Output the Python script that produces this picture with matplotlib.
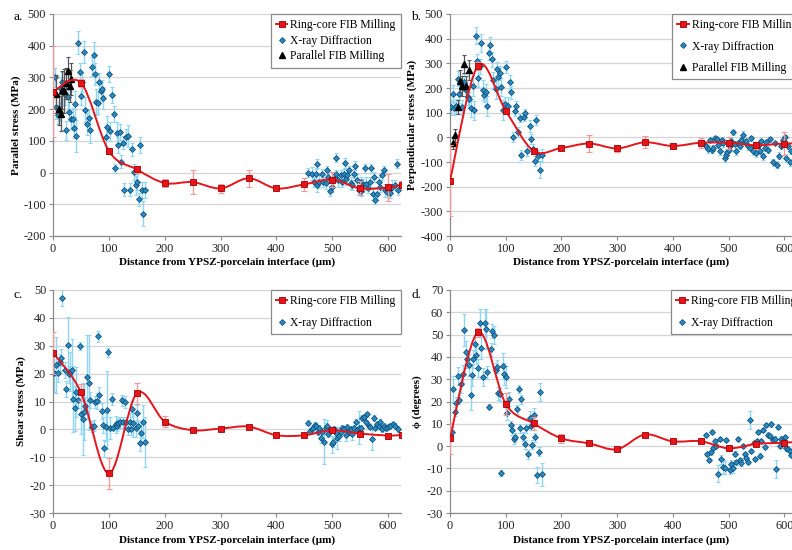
import numpy as np
import matplotlib
matplotlib.use("Agg")
import matplotlib.pyplot as plt
from matplotlib.path import Path
from matplotlib.patches import PathPatch
from matplotlib.lines import Line2D

plt.rcParams['font.family'] = ['Liberation Serif', 'DejaVu Serif']
plt.rcParams['axes.unicode_minus'] = False

# ---------------- data ----------------
ring_x = [0, 50, 100, 150, 200, 250, 300, 350, 400, 450, 500, 550, 600, 625]

# Panel a: parallel stress
ring_a = [255, 283, 68, 10, -33, -30, -50, -18, -50, -37, -22, -50, -47, -38]
ring_a_err = [143, 12, 8, 10, 12, 37, 15, 27, 6, 20, 25, 22, 42, 10]
xrd_a_x = [3, 6, 9, 12, 15, 17, 21, 23, 27, 29, 32, 35, 37, 39, 42, 45, 48, 50, 52, 56,
           58, 61, 64, 67, 70, 73, 76, 77, 80, 83, 86, 88, 90, 94, 96, 100, 102, 106, 109, 111,
           114, 117, 120, 122, 125, 127, 131, 134, 138, 142, 145, 149, 151, 154, 156, 160, 162, 165,
           457, 464, 467, 470, 473, 473, 477, 481, 484, 488, 491, 493, 496, 499, 501, 504, 506, 507,
           511, 515, 517, 521, 522, 525, 527, 530, 533, 536, 539, 540, 545, 548, 551, 552, 555, 558,
           561, 564, 567, 570, 573, 574, 577, 580, 583, 586, 589, 592, 595, 598, 601, 604, 607, 612,
           616, 617]
xrd_a_y = [300, 208, 182, 192, 265, 286, 249, 134, 239, 192, 168, 168, 139, 216, 115, 410, 316, 243, 285, 379,
           198, 153, 171, 134, 334, 371, 310, 223, 220, 285, 257, 262, 235, 113, 144, 310, 131, 244, 184, 13,
           125, 86, 128, 34, 94, -54, 113, 115, -54, 73, 2, -40, -29, -84, 86, -54, -130, -54,
           0, -3, -29, -5, -40, 28, -29, -3, -29, -33, 7, -14, -58, -47, -24, -16, -6, 47,
           -24, -8, -29, -3, 30, -19, -8, 7, -33, -40, -3, 22, -24, -54, -59, -29, -40, 13,
           -35, -50, -29, 13, -66, -14, -85, -66, -29, -45, -8, 7, -56, -61, -56, -64, -45, -40,
           28, -56]
xrd_a_e = [30, 40, 30, 30, 35, 30, 35, 30, 40, 30, 30, 35, 30, 40, 50, 35, 30, 30, 30, 35,
           40, 35, 30, 40, 30, 40, 35, 40, 35, 30, 30, 30, 35, 30, 35, 25, 30, 25, 25, 15,
           35, 25, 25, 20, 20, 20, 25, 35, 20, 20, 25, 30, 25, 20, 25, 25, 40, 25,
           15, 20, 15, 15, 20, 15, 20, 15, 15, 20, 15, 20, 15, 15, 20, 15, 15, 15,
           20, 15, 15, 15, 15, 20, 15, 15, 20, 15, 15, 15, 20, 15, 15, 15, 20, 15,
           20, 15, 15, 15, 20, 15, 15, 20, 15, 15, 15, 15, 20, 15, 15, 15, 20, 15,
           15, 15]
par_a_x = [6, 10, 14, 17, 20, 23, 26, 30, 33]
par_a_y = [247, 199, 186, 260, 258, 281, 320, 273, 294]
par_a_e = [60, 50, 55, 60, 70, 50, 45, 50, 50]

# Panel b: perpendicular stress
ring_b = [-175, 290, 108, -55, -43, -25, -45, -20, -35, -22, -22, -32, -25, -25]
ring_b_err = [143, 15, 10, 12, 10, 36, 15, 25, 5, 20, 25, 15, 45, 10]
xrd_b_x = [2, 5, 8, 11, 14, 17, 22, 26, 29, 32, 34, 37, 41, 43, 46, 48, 50, 53, 56, 59,
           61, 64, 67, 70, 72, 76, 78, 82, 84, 86, 89, 92, 95, 98, 101, 104, 107, 110, 113, 116,
           119, 122, 125, 128, 132, 135, 139, 143, 146, 149, 152, 155, 158, 162, 166,
           454, 460, 464, 467, 470, 473, 476, 479, 482, 485, 488, 491, 494, 495, 498, 500, 502, 505,
           508, 511, 514, 517, 520, 523, 526, 529, 532, 535, 538, 541, 544, 547, 550, 553, 556, 559,
           562, 565, 568, 571, 574, 579, 583, 587, 591, 595, 598, 601, 604, 607, 610, 613]
xrd_b_y = [122, 176, 119, 126, 238, 176, 122, 223, 191, 163, 155, 119, 209, 109, 412, 308, 241, 288, 382, 193,
           172, 182, 126, 343, 373, 317, 231, 196, 277, 245, 261, 204, 112, 135, 284, 128, 223, 182, 0, 108,
           126, 20, 78, -72, 82, 99, -54, 45, -7, -46, -97, 69, -77, -131, -73,
           -23, -36, -47, -9, -50, -43, -3, -7, -30, -57, -9, -23, -84, -70, -61, -50, -36, -16,
           20, -26, -57, -23, -36, -9, 11, -20, -16, -36, -43, -3, -57, -36, -64, -34, -57, -16,
           -77, -43, -20, -50, -7, -101, -23, -111, -74, -36, -9, 1, -84, -36, -101, -57]
xrd_b_e = [30, 35, 30, 30, 30, 35, 30, 35, 30, 30, 30, 35, 40, 40, 35, 30, 35, 30, 35, 40,
           30, 35, 40, 30, 35, 30, 35, 40, 30, 35, 30, 35, 40, 30, 25, 35, 30, 25, 20, 20,
           20, 20, 15, 20, 15, 15, 20, 25, 20, 20, 20, 20, 25, 35, 25,
           10, 10, 15, 10, 15, 10, 10, 10, 15, 15, 10, 15, 15, 15, 15, 10, 15, 15,
           10, 10, 15, 10, 10, 10, 15, 10, 10, 15, 10, 10, 15, 10, 15, 10, 10, 10,
           15, 10, 10, 15, 10, 15, 10, 15, 15, 10, 10, 10, 15, 10, 15, 10]
par_b_x = [5, 9, 14, 18, 22, 26, 29, 34]
par_b_y = [-23, 8, 123, 227, 209, 297, 209, 274]
par_b_e = [25, 25, 30, 45, 40, 35, 40, 40]

# Panel c: shear stress
ring_c = [27.5, 13.3, -15.8, 12.9, 2.8, -0.3, 0.3, 1.0, -2.1, -2.1, -0.3, -1.5, -2.2, -2.0]
ring_c_err = [7.5, 3, 5.5, 3.7, 2, 0.5, 0.5, 0.5, 0.5, 0.5, 0.5, 0.5, 0.5, 0.5]
xrd_c_x = [2, 6, 9, 12, 15, 17, 21, 23, 26, 28, 31, 34, 36, 39, 42, 45, 48, 50, 54, 56,
           58, 61, 64, 67, 70, 73, 76, 79, 81, 83, 87, 89, 92, 94, 97, 99, 102, 106, 108, 112,
           114, 117, 120, 123, 126, 129, 131, 134, 137, 139, 142, 144, 148, 150, 152, 155, 158, 161, 164,
           457, 460, 463, 466, 469, 471, 474, 477, 480, 482, 485, 488, 491, 493, 496, 499, 501, 503,
           506, 509, 512, 515, 518, 521, 524, 527, 530, 533, 536, 539, 542, 545, 548, 551, 554, 557,
           560, 563, 565, 568, 571, 574, 577, 580, 583, 586, 589, 592, 596, 600, 604, 608, 613, 617]
xrd_c_y = [20.4, 23.1, 20.1, 24.0, 25.7, 47.2, 21.3, 14.5, 30.3, 19.8, 20.7, 21.3, 10.9, 7.5, 13.3,
           10.5, 29.9, 5.4, 3.7, 6.3, 8.5, 18.9, 16.8, 10.5, 1.0, 1.3, 9.8, 10.2, 33.4, 12.3,
           6.6, 1.6, -6.8, 1.0, 7.0, 27.6, 0.6, 10.9, 0.6, 1.8, 1.3, 2.2, 2.5, 10.4, 2.5,
           9.8, 2.5, 0.1, 2.8, 0.1, 7.3, 2.2, 0.4, 5.8, 1.3, -4.8, -1.4, 2.8, -4.4,
           2.4, -0.6, 0.1, 0.6, 1.6, 1.3, -1.1, 0.4, -3.0, -0.8, -4.4, 0.4, 1.3, -1.8, -0.2, -5.4, -4.4, 0.1,
           -1.4, -3.2, -2.3, -0.8, 0.4, 0.1, -2.0, 1.0, -1.1, 0.1, -1.8, 0.4, 2.8, -0.2, 0.6, 0.6, 4.0, 4.6,
           2.5, 5.4, 1.3, 1.0, -3.5, 4.0, 0.6, 1.8, 1.3, 2.8, 0.1, 1.3, 0.4, 1.0, 1.3, 1.8, 1.3, 0.1]
xrd_c_e = [7, 10, 3, 3, 3, 3, 3, 3, 10, 3, 7, 11, 12, 8, 9, 3, 1.5, 7, 13, 10,
           3, 15, 17, 3, 2, 2, 2, 3, 2, 3, 3, 3, 3, 5, 14, 1.5, 4, 2, 1, 3,
           2, 2, 2, 2, 2, 2, 2, 2, 3, 2, 3, 5, 3, 3, 2, 3, 4, 6, 9,
           1, 1, 1, 1, 1, 1, 1, 1, 2, 1, 8, 2, 2, 1, 1, 3, 2, 1,
           2, 4, 2, 1, 1, 1, 2, 1, 1, 1, 2, 1, 1, 1, 6, 1, 1, 1,
           1, 1, 1, 1, 4, 1, 1, 1, 1, 1, 1, 1, 1, 1, 1, 1, 1, 1]

# Panel d: phi angle
ring_d = [3.5, 51, 19, 10.2, 3.5, 1.2, -1.4, 5.2, 2.1, 2.2, -1.0, 1.0, 1.5, 2.0]
ring_d_err = [7, 2, 5, 3, 2, 0.7, 0.7, 0.7, 0.7, 0.7, 0.7, 0.7, 0.7, 0.7]
xrd_d_x = [3, 6, 9, 11, 14, 17, 20, 23, 25, 28, 31, 34, 37, 40, 42, 44, 47, 50, 53, 56,
           59, 62, 64, 67, 70, 73, 76, 79, 82, 84, 86, 89, 92, 95, 97, 100, 103, 106, 109, 111,
           115, 117, 120, 123, 126, 128, 131, 134, 137, 140, 143, 146, 148, 150, 153, 156, 159, 162, 165,
           459, 462, 465, 468, 471, 473, 475, 478, 481, 484, 487, 490, 493, 496, 499, 502, 505, 508,
           512, 514, 517, 520, 523, 526, 529, 532, 535, 538, 541, 545, 548, 551, 553, 556, 559, 562,
           565, 568, 571, 574, 577, 580, 583, 586, 589, 592, 595, 598, 601, 604, 607, 610, 613]
xrd_d_y = [6.4, 25.4, 15.4, 19.2, 31.4, 20.7, 27.7, 32.2, 52.1, 42.0, 39.0, 36.4, 23.0, 31.9, 39.0,
           45.7, 40.9, 35.2, 55.4, 44.2, 30.8, 55.4, 52.4, 33.1, 17.7, 43.4, 51.6, 49.9, 34.1, 35.6,
           23.6, 23.2, -12.0, 35.9, 32.2, 31.1, 14.7, 21.1, 9.4, 7.2, 3.0, 3.9, 16.5, 25.6, 7.9,
           21.0, 4.2, 0.9, 7.9, -3.7, 12.8, 9.1, 0.7, 13.9, 3.9, -13.0, -2.5, 24.4, -12.7,
           4.9, -3.6, -6.3, -2.8, 6.4, -0.7, 2.4, 0.1, -12.3, 3.1, -6.0, -9.3, -9.7, 2.8, -0.7, -10.5, -8.2, -10.0,
           -3.4, -7.3, 3.1, -6.3, -7.8, 0.1, -3.6, -5.5, -7.0, 11.7, -2.2, 1.5, -5.8, 2.4, 6.4, -4.3, 2.2, 7.2,
           -0.3, 9.4, 5.2, 4.5, 9.7, 2.7, 3.4, -10.3, 8.7, 0.1, 3.4, 2.4, 4.2, -1.0, -1.5, -2.2, -4.0]
xrd_d_e = [2, 6, 2, 3, 4, 2, 4, 4, 7, 5, 4, 5, 7, 5, 4, 3, 4, 4, 6, 5,
           4, 6, 9, 3, 1, 3, 3, 4, 3, 3, 3, 3, 1.5, 6, 5, 5, 3, 3, 2, 2,
           2, 2, 2, 2, 2, 2, 2, 2, 2, 2, 3, 2, 2, 3, 2, 3.5, 2, 4, 5,
           1, 1, 1, 1, 1, 1, 1, 1, 4, 1, 2, 3, 3, 1, 1, 2, 2, 2,
           1, 1, 1, 1, 1, 1, 1, 1, 1, 4, 1, 1, 1, 1, 1, 1, 1, 1,
           1, 1, 1, 1, 1, 1, 1, 4, 1, 1, 1, 1, 1, 1, 1, 1, 1]

x_ticks = [0, 100, 200, 300, 400, 500, 600]
x_label = "Distance from YPSZ-porcelain interface (\u00b5m)"
legend_labels = ["Ring-core FIB Milling", "X-ray Diffraction", "Parallel FIB Milling"]

# ---------------- style ----------------
RED = '#e8141c'
RED_EDGE = '#a00000'
RED_ERR = '#f29a9a'
BLUE = '#2a8cc4'
BLUE_EDGE = '#124f75'
BLUE_ERR = '#8ed6f4'
GRID = '#d4d4d4'
SPINE = '#8a8a8a'
XMS = 3.0


def smooth_path(xs, ys):
    pts = np.column_stack([xs, ys]).astype(float)
    n = len(pts)
    verts = [pts[0]]
    codes = [Path.MOVETO]
    for i in range(n - 1):
        p0 = pts[i - 1] if i > 0 else pts[i]
        p1 = pts[i]
        p2 = pts[i + 1]
        p3 = pts[i + 2] if i + 2 < n else pts[i + 1]
        c1 = p1 + (p2 - p0) / 6.0
        c2 = p2 - (p3 - p1) / 6.0
        verts += [c1, c2, p2]
        codes += [Path.CURVE4] * 3
    return Path(verts, codes)


fig = plt.figure(figsize=(7.92, 5.5), dpi=100)

W, H = 792.0, 550.0
panels = {
    'a': dict(px=(53, 401), py=(14, 236), xmax=623),
    'b': dict(px=(450, 792), py=(14, 236), xmax=614),
    'c': dict(px=(53, 401), py=(290, 513), xmax=623),
    'd': dict(px=(450, 792), py=(290, 513), xmax=614),
}


def make_ax(key):
    p = panels[key]
    l = p['px'][0] / W
    w = (p['px'][1] - p['px'][0]) / W
    b = 1 - p['py'][1] / H
    h = (p['py'][1] - p['py'][0]) / H
    ax = fig.add_axes([l, b, w, h])
    ax.set_xlim(0, p['xmax'])
    return ax


def style_ax(ax, key, yticks, ylabel, ylabx):
    ax.set_ylim(yticks[0], yticks[-1])
    ax.set_yticks(yticks)
    ax.set_xticks(x_ticks)
    ax.grid(axis='y', color=GRID, lw=0.9)
    ax.set_axisbelow(True)
    for s in ['top', 'right']:
        ax.spines[s].set_visible(False)
    for s in ['left', 'bottom']:
        ax.spines[s].set_color(SPINE)
        ax.spines[s].set_linewidth(0.9)
    ax.tick_params(axis='both', labelsize=8.8, colors='#222222', length=3,
                   width=0.8, color=SPINE, pad=2)
    ax.set_ylabel(ylabel, fontsize=8, fontweight='bold', va='center')
    ax.yaxis.set_label_coords(ylabx, 0.5)
    ax.set_xlabel(x_label, fontsize=8, fontweight='bold', va='center')
    ax.xaxis.set_label_coords(0.5, -0.12)


def draw(ax, ring_y, ring_e, xx, xy, xe, px=None, py=None, pe=None):
    ax.errorbar(xx, xy, yerr=xe, fmt='none', ecolor=BLUE_ERR, elinewidth=1.0,
                capsize=1.5, capthick=0.8, zorder=2)
    ax.plot(xx, xy, 'D', ms=XMS, color=BLUE, mec=BLUE_EDGE, mew=0.6, zorder=3)
    if px is not None:
        ax.errorbar(px, py, yerr=pe, fmt='none', ecolor='#555555', elinewidth=0.9,
                    capsize=1.5, capthick=0.8, zorder=4)
        ax.plot(px, py, '^', ms=4.0, color='black', zorder=5)
    ax.errorbar(ring_x, ring_y, yerr=ring_e, fmt='none', ecolor=RED_ERR, elinewidth=1.0,
                capsize=2, capthick=0.8, zorder=5)
    patch = PathPatch(smooth_path(ring_x, ring_y), fill=False, edgecolor=RED, lw=1.4,
                      transform=ax.transData, zorder=6)
    ax.add_patch(patch)
    ax.plot(ring_x, ring_y, 's', ms=5, color=RED, mec=RED_EDGE, mew=0.6, zorder=7)


def legend(ax, with_par, anchor, loc, spacing):
    h = [Line2D([], [], color=RED, lw=1.4, marker='s', ms=5, mec=RED_EDGE, mew=0.6),
         Line2D([], [], ls='none', marker='D', ms=XMS, color=BLUE, mec=BLUE_EDGE, mew=0.6)]
    labels = legend_labels[:2]
    if with_par:
        h.append(Line2D([], [], ls='none', marker='^', ms=4.0, color='black'))
        labels = legend_labels
    leg = ax.legend(h, labels, loc=loc, bbox_to_anchor=anchor, fontsize=8.4,
                    frameon=True, fancybox=False, edgecolor='#8a8a8a', framealpha=1,
                    borderpad=0.45, handlelength=1.0, handletextpad=0.25,
                    labelspacing=spacing, borderaxespad=0)
    leg.get_frame().set_linewidth(0.9)
    leg.set_zorder(10)


ax_a = make_ax('a')
draw(ax_a, ring_a, ring_a_err, xrd_a_x, xrd_a_y, xrd_a_e, par_a_x, par_a_y, par_a_e)
style_ax(ax_a, 'a', list(range(-200, 501, 100)), "Parallel stress (MPa)", -0.105)
legend(ax_a, True, (1.0, 1.0), 'upper right', 0.3)

ax_b = make_ax('b')
draw(ax_b, ring_b, ring_b_err, xrd_b_x, xrd_b_y, xrd_b_e, par_b_x, par_b_y, par_b_e)
style_ax(ax_b, 'b', list(range(-400, 501, 100)), "Perpendicular stress (MPa)", -0.11)
legend(ax_b, True, (0.649, 1.0), 'upper left', 0.8)

ax_c = make_ax('c')
draw(ax_c, ring_c, ring_c_err, xrd_c_x, xrd_c_y, xrd_c_e)
style_ax(ax_c, 'c', list(range(-30, 51, 10)), "Shear stress (MPa)", -0.09)
legend(ax_c, False, (1.0, 1.0), 'upper right', 0.8)

ax_d = make_ax('d')
draw(ax_d, ring_d, ring_d_err, xrd_d_x, xrd_d_y, xrd_d_e)
style_ax(ax_d, 'd', list(range(-30, 71, 10)), "\u03d5 (degrees)", -0.095)
legend(ax_d, False, (0.646, 1.0), 'upper left', 0.8)

for letter, (x, y) in {'a.': (13, 17), 'b.': (411, 17), 'c.': (13, 295), 'd.': (411, 295)}.items():
    fig.text(x / W, 1 - y / H, letter, fontsize=9.5, va='center', ha='left')

fig.savefig('out.png', dpi=100)
